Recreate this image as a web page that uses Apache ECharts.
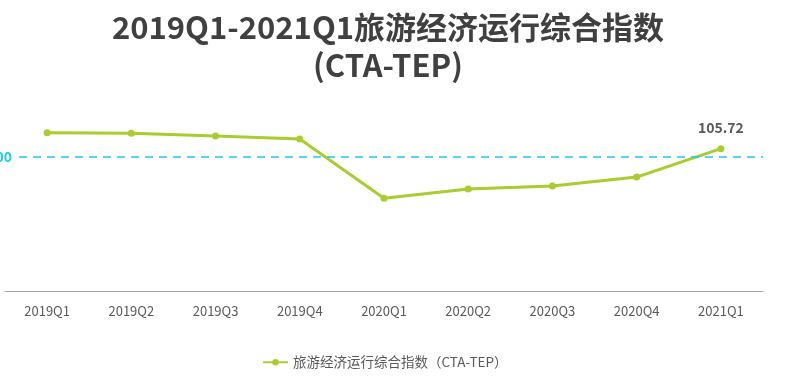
<!DOCTYPE html>
<html><head><meta charset="utf-8">
<script src="https://cdn.jsdelivr.net/npm/echarts@6/dist/echarts.min.js"></script>
<style>html,body{margin:0;padding:0;background:#fff}#c{width:798px;height:380px}</style>
</head><body><div id="c"></div>
<script>
const categories = ['2019Q1','2019Q2','2019Q3','2019Q4','2020Q1','2020Q2','2020Q3','2020Q4','2021Q1'];
const values = [117.5, 117.1, 115.1, 112.9, 68.8, 75.7, 77.9, 84.6, 105.72];
const seriesName = '旅游经济运行综合指数（CTA-TEP）';
const titleText = '2019Q1-2021Q1旅游经济运行综合指数\n(CTA-TEP)';
const baseline = 100;

const chart = echarts.init(document.getElementById('c'), null, {renderer: 'canvas'});
chart.setOption({
  animation: false,
  title: {
    text: titleText, left: 383, textAlign: 'center', top: 3,
    textStyle: {fontFamily: 'Noto Sans CJK SC', fontWeight: 'bold', fontSize: 31, color: '#404040', lineHeight: 38}
  },
  legend: {
    bottom: 6, left: 257, itemWidth: 25, itemHeight: 8, itemGap: 5,
    textStyle: {fontFamily: 'Noto Sans CJK SC', fontSize: 13.5, color: '#595959'},
    data: [seriesName]
  },
  grid: {left: 5, right: 35, top: 89, bottom: 89},
  xAxis: {
    type: 'category', data: categories, boundaryGap: true,
    axisLine: {lineStyle: {color: '#a6a6a6', width: 1}},
    axisTick: {show: false},
    axisLabel: {color: '#595959', fontSize: 13, margin: 14, fontFamily: 'Noto Sans CJK SC'}
  },
  yAxis: {type: 'value', min: 0, max: 150, show: false, splitLine: {show: false}},
  series: [{
    name: seriesName, type: 'line', data: values.map((v, i) => i === values.length - 1 ? {value: v, label: {show: true}} : v),
    symbol: 'circle', symbolSize: 7,
    lineStyle: {color: '#a9cc2e', width: 3},
    itemStyle: {color: '#a9cc2e'},
    label: {show: false, position: 'top', distance: 10, color: '#595959', fontWeight: 'bold', fontSize: 14, fontFamily: 'Noto Sans CJK SC'},
    markLine: {
      silent: true, symbol: 'none',
      lineStyle: {color: '#1ec8f5', type: [8, 6], width: 1.5},
      label: {position: 'start', formatter: String(baseline), color: '#1ec8f5', fontWeight: 'bold', fontSize: 14,
              distance: -12, backgroundColor: '#fff', padding: [0, 5, 0, 0], fontFamily: 'Noto Sans CJK SC'},
      data: [{yAxis: baseline}]
    }
  }]
});
</script></body></html>
